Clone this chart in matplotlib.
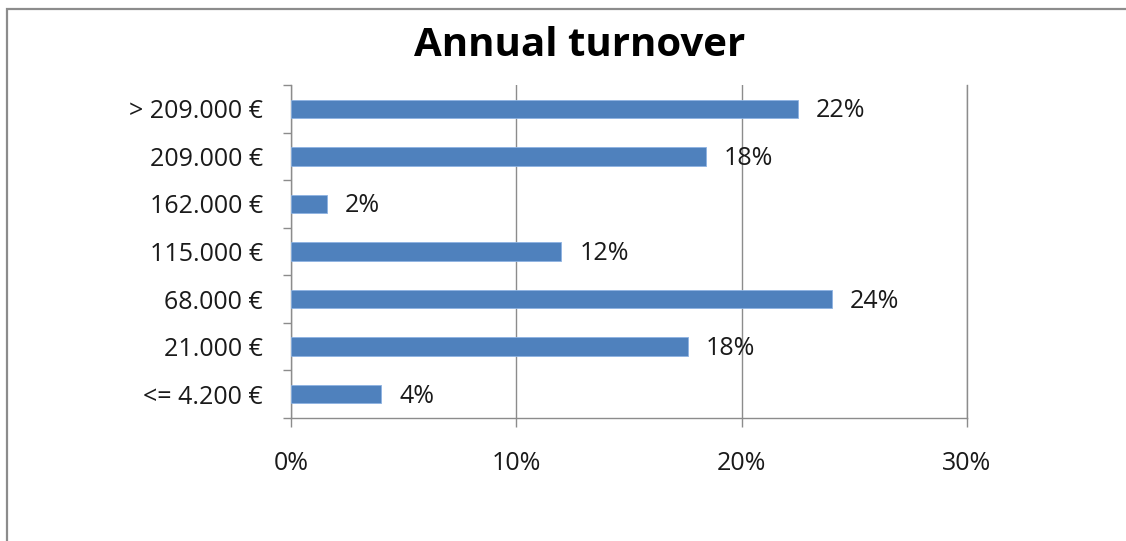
import matplotlib.pyplot as plt
import matplotlib.patches as mpatches
import numpy as np

plt.rcParams['font.family'] = ['Open Sans', 'DejaVu Sans']

categories = ['<= 4.200 €', '21.000 €', '68.000 €', '115.000 €', '162.000 €', '209.000 €', '> 209.000 €']
values = [4.0, 17.6, 24.0, 12.0, 1.6, 18.4, 22.5]
value_labels = ['4%', '18%', '24%', '12%', '2%', '18%', '22%']
x_ticks = [0, 10, 20, 30]
x_tick_labels = ['0%', '10%', '20%', '30%']

W, H = 1126, 541
fig = plt.figure(figsize=(W / 100, H / 100), dpi=100)

# outer chart frame
fig.add_artist(mpatches.Rectangle((7 / W, -0.05), 1.2, 1 - 9 / H + 0.05, transform=fig.transFigure,
                                  fill=False, edgecolor='#8c8c8c', linewidth=1.6))

ax = fig.add_axes([291 / W, 1 - 418 / H, (967 - 291) / W, (418 - 85) / H])

y = np.arange(len(categories))
ax.barh(y, values, height=0.39, color='#4f81bd', edgecolor='#8db3e2', linewidth=0.6, zorder=3)

fs = 18
for yi, v, lab in zip(y, values, value_labels):
    ax.annotate(lab, (v, yi), xytext=(18, -2), textcoords='offset pixels',
                ha='left', va='center', fontsize=fs, color='#1a1a1a')

ax.set_xlim(0, 30)
ax.set_ylim(-0.5, len(categories) - 0.5)
ax.set_xticks(x_ticks)
ax.set_xticklabels(x_tick_labels, fontsize=fs, color='#1a1a1a')
ax.set_yticks(y)
ax.set_yticklabels(categories, fontsize=fs, color='#1a1a1a')
ax.set_yticks(np.arange(len(categories) + 1) - 0.5, minor=True)
ax.tick_params(axis='y', which='major', length=0, pad=20)
ax.tick_params(axis='y', which='minor', length=6, color='#8c8c8c', width=1)
ax.tick_params(axis='x', length=6.5, color='#8c8c8c', width=1, pad=17)

ax.xaxis.grid(True, color='#8c8c8c', linewidth=1, zorder=0)
ax.set_axisbelow(True)
ax.spines['top'].set_visible(False)
for s in ['left', 'bottom', 'right']:
    ax.spines[s].set_color('#8c8c8c')
    ax.spines[s].set_linewidth(1)

fig.text(580 / W, 1 - 46 / H, 'Annual turnover', ha='center', va='center',
         fontsize=29, fontweight='bold', color='#000000')

fig.savefig('out.png', dpi=100)
